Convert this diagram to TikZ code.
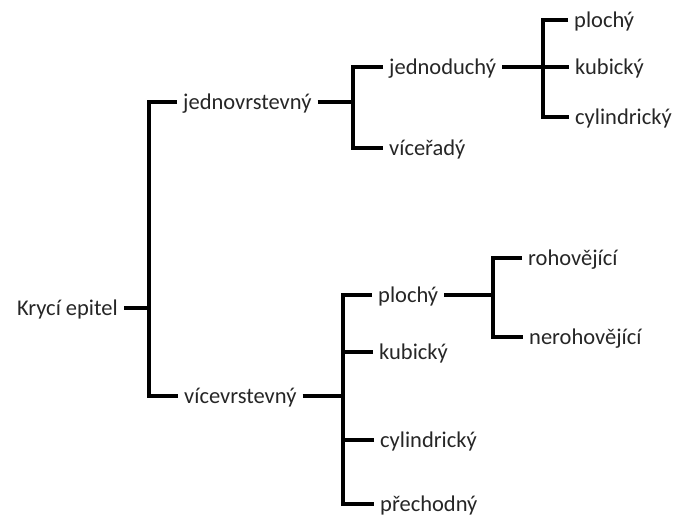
\documentclass[tikz,border=0pt]{standalone}
\usepackage{fontspec}
\setmainfont{Carlito}
\begin{document}
\begin{tikzpicture}[x=1pt,y=-1pt,
  lbl/.style={inner xsep=6pt, inner ysep=0pt, text height=20pt, text depth=5pt,
    font=\fontsize{22.5}{27}\selectfont, text=black!85},
  conn/.style={line width=4.2pt, black}]
\useasboundingbox (0,0) rectangle (678,518);
% nodes
\node[lbl, anchor=east] (root) at (124,308) {Krycí epitel};
\node[lbl, anchor=west] (n1) at (177,102) {jednovrstevný};
\node[lbl, anchor=west] (n11) at (383,67) {jednoduchý};
\node[lbl, anchor=west] (n111) at (568,20) {plochý};
\node[lbl, anchor=west] (n112) at (569,67) {kubický};
\node[lbl, anchor=west] (n113) at (569,117) {cylindrický};
\node[lbl, anchor=west] (n12) at (383,148) {víceřadý};
\node[lbl, anchor=west] (n2) at (178,396) {vícevrstevný};
\node[lbl, anchor=west] (n21) at (372,295) {plochý};
\node[lbl, anchor=west] (n211) at (522,258) {rohovějící};
\node[lbl, anchor=west] (n212) at (523,337) {nerohovějící};
\node[lbl, anchor=west] (n22) at (373,352) {kubický};
\node[lbl, anchor=west] (n23) at (374,440) {cylindrický};
\node[lbl, anchor=west] (n24) at (374,504) {přechodný};
% junctions
\coordinate (j1) at (149,308);
\coordinate (j2) at (353,102);
\coordinate (j3) at (543,67);
\coordinate (j4) at (343,396);
\coordinate (j5) at (493,295);
% connectors
\draw[conn] (root.east) -- (j1);
\draw[conn] (n1.west) -| (j1) |- (n2.west);
\draw[conn] (n1.east) -- (j2);
\draw[conn] (n11.west) -| (j2) |- (n12.west);
\draw[conn] (n11.east) -- (n112.west);
\draw[conn] (n111.west) -| (j3) |- (n113.west);
\draw[conn] (n2.east) -- (j4);
\draw[conn] (n21.west) -| (j4) |- (n24.west);
\draw[conn] (n22.west) -- (n22.west -| j4);
\draw[conn] (n23.west) -- (n23.west -| j4);
\draw[conn] (n21.east) -- (j5);
\draw[conn] (n211.west) -| (j5) |- (n212.west);
\end{tikzpicture}
\end{document}
